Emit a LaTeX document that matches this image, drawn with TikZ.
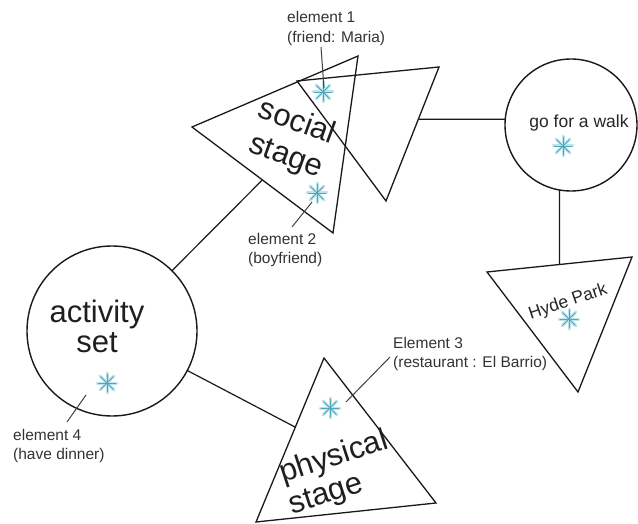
\documentclass[tikz,border=0pt]{standalone}
\usepackage{fontspec}
\setmainfont{Liberation Sans}
\definecolor{glintcore}{HTML}{4FA6BA}
\definecolor{glintglow}{HTML}{BFE4EC}
% light-blue asterisk marking an element
\newcommand\glint[1]{%
  \begin{scope}[shift={(#1)}]
    \foreach \a in {0,45,90,135} {
      \draw[line width=3pt, glintglow, line cap=round] (\a:10) -- (\a+180:10);
    }
    \foreach \a in {0,45,90,135} {
      \draw[line width=0.9pt, glintcore, line cap=round] (\a:9) -- (\a+180:9);
    }
  \end{scope}}
\begin{document}
\begin{tikzpicture}[x=1pt,y=-1pt,
  edge/.style={line width=1.3pt, black!90, line join=miter},
  link/.style={line width=1.2pt, black!90},
  leader/.style={line width=1pt, black!75},
  ring/.style={circle, draw=black!90, line width=1.4pt, inner sep=0pt, outer sep=0pt},
  big/.style={font=\fontsize{31}{31}\selectfont, text=black!88, inner sep=0pt},
  mid/.style={font=\fontsize{17.5}{20}\selectfont, text=black!85, inner sep=0pt},
  small/.style={font=\fontsize{15.5}{19.5}\selectfont, text=black!80, inner sep=0pt},
]
\useasboundingbox (0,0) rectangle (638,524);
\fill[white] (0,0) rectangle (638,524);

% triangle corners
\coordinate (socL) at (192,127);
\coordinate (socT) at (358,56);
\coordinate (socB) at (333,233);
\coordinate (twoL) at (297,81);
\coordinate (twoR) at (439,67);
\coordinate (twoB) at (386,201);
\coordinate (hydL) at (487,272);
\coordinate (hydR) at (632,257);
\coordinate (hydB) at (578,392);
\coordinate (phyT) at (324,358);
\coordinate (phyL) at (256,522);
\coordinate (phyR) at (436,503);

\draw[edge] (socL) -- (socT) -- (socB) -- cycle;
\draw[edge] (twoL) -- (twoR) -- (twoB) -- cycle;
\draw[edge] (hydL) -- (hydR) -- (hydB) -- cycle;
\draw[edge] (phyT) -- (phyL) -- (phyR) -- cycle;

% circles
\node[ring, minimum size=170pt] (act) at (112,331) {};
\node[ring, minimum size=132pt] (walk) at (571,125) {};

% points where the links meet the triangles
\coordinate (onSoc) at (262,180.3);
\coordinate (onPhy) at (295,427);
\coordinate (onTwo) at (418.4,119.3);
\coordinate (onHyd) at (559.5,264.6);

\draw[link] (act) -- (onSoc);
\draw[link] (act) -- (onPhy);
\draw[link] (onTwo) -- (walk.175);
\draw[link] (walk.260) -- (onHyd);

% element markers
\coordinate (s1) at (323,92);
\coordinate (s2) at (317,193);
\coordinate (s3) at (330,408);
\coordinate (s4) at (107,383);
\coordinate (s5) at (563,146);
\coordinate (s6) at (569,319);
\foreach \s in {s1,s2,s3,s4,s5,s6} { \glint{\s} }

% leader lines
\coordinate (l1a) at (321,47);  \coordinate (l1b) at (324,88);
\coordinate (l2a) at (312,202); \coordinate (l2b) at (292,227);
\coordinate (l3a) at (346,402); \coordinate (l3b) at (390,357);
\coordinate (l4a) at (86,395);  \coordinate (l4b) at (67,422);
\draw[leader] (l1a) -- (l1b);
\draw[leader] (l2a) -- (l2b);
\draw[leader] (l3a) -- (l3b);
\draw[leader] (l4a) -- (l4b);

% titles
\node[big, anchor=base] (actA) at (97,322) {activity};
\node[big, anchor=base] (actB) at (97,352) {set};
\node[big, anchor=base, rotate=-20] (socA) at (294,130.5) {social};
\node[big, anchor=base, rotate=-20] (socB) at (283,164.5) {stage};
\node[big, anchor=base, rotate=18] (phyA) at (336.5,465.6) {physical};
\node[big, anchor=base, rotate=18] (phyB) at (328.5,502.6) {stage};
\node[mid, anchor=base] (walkT) at (579,128) {go for a walk};
\node[mid, anchor=base, rotate=18.6] (hydeT) at (569.5,306.4) {Hyde Park};

% element labels
\node[small, anchor=base west] (e1a) at (287,23) {element 1};
\node[small, anchor=base west] (e1b) at (287,42.5) {(friend: Maria)};
\node[small, anchor=base west] (e2a) at (248,244) {element 2};
\node[small, anchor=base west] (e2b) at (248,263) {(boyfriend)};
\node[small, anchor=base west] (e3a) at (393,348) {Element 3};
\node[small, anchor=base west] (e3b) at (393,367) {(restaurant : El Barrio)};
\node[small, anchor=base west] (e4a) at (13,440) {element 4};
\node[small, anchor=base west] (e4b) at (13,459) {(have dinner)};
\end{tikzpicture}
\end{document}
